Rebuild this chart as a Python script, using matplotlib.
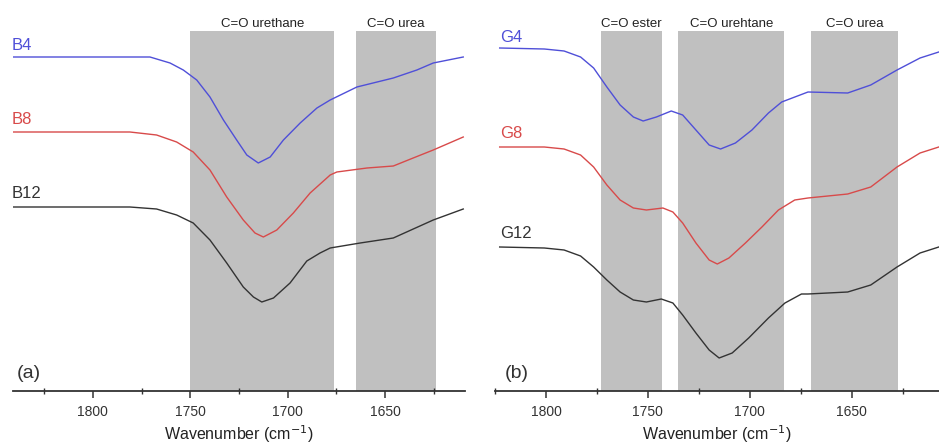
import numpy as np
import matplotlib.pyplot as plt

plt.rcParams['font.family'] = ['Liberation Sans', 'DejaVu Sans']

# ---- panel (a) data : wavenumber (cm-1) and transmittance (a.u.) ----
wn_B4 = [1841.1, 1781.0, 1770.7, 1760.4, 1753.6, 1746.7, 1739.9, 1733.0, 1726.2, 1721.0,
         1715.1, 1709.0, 1702.2, 1693.6, 1685.0, 1678.2, 1664.5, 1645.8, 1633.7, 1625.3, 1609.9]
T_B4 = [3.34, 3.34, 3.34, 3.28, 3.21, 3.11, 2.94, 2.71, 2.51, 2.36,
        2.28, 2.34, 2.51, 2.68, 2.83, 2.91, 3.04, 3.13, 3.21, 3.28, 3.34]

wn_B8 = [1841.1, 1781.0, 1767.3, 1757.0, 1748.5, 1739.9, 1731.3, 1722.8, 1716.8, 1712.5,
         1705.6, 1697.1, 1688.5, 1678.2, 1674.8, 1659.3, 1645.8, 1635.6, 1625.3, 1609.9]
T_B8 = [2.59, 2.59, 2.56, 2.49, 2.39, 2.21, 1.94, 1.71, 1.58, 1.54,
        1.61, 1.78, 1.98, 2.16, 2.19, 2.23, 2.25, 2.33, 2.41, 2.54]

wn_B12 = [1841.1, 1781.0, 1767.3, 1757.0, 1748.5, 1739.9, 1731.3, 1722.8, 1717.6, 1713.3,
          1707.3, 1698.8, 1690.2, 1683.4, 1678.2, 1662.8, 1645.8, 1625.3, 1609.9]
T_B12 = [1.84, 1.84, 1.82, 1.76, 1.68, 1.51, 1.28, 1.04, 0.94, 0.89,
         0.93, 1.08, 1.30, 1.38, 1.43, 1.48, 1.53, 1.71, 1.82]

# ---- panel (b) data ----
wn_G4 = [1822.7, 1800.8, 1791.1, 1783.0, 1776.6, 1770.1, 1763.6, 1757.1, 1752.3, 1745.8,
         1738.5, 1732.9, 1726.4, 1719.9, 1714.3, 1707.0, 1698.9, 1690.8, 1684.3, 1671.4,
         1651.9, 1640.6, 1627.7, 1616.4, 1607.2]
T_G4 = [3.43, 3.42, 3.40, 3.34, 3.23, 3.04, 2.86, 2.74, 2.70, 2.74,
        2.80, 2.76, 2.61, 2.46, 2.42, 2.48, 2.61, 2.78, 2.89, 2.99,
        2.98, 3.06, 3.21, 3.33, 3.39]

wn_G8 = [1822.7, 1800.8, 1791.1, 1783.0, 1776.6, 1770.1, 1763.6, 1757.1, 1750.7, 1742.6,
         1737.7, 1732.9, 1726.4, 1719.9, 1715.9, 1710.2, 1702.1, 1694.0, 1685.9, 1677.9,
         1671.4, 1651.9, 1640.6, 1627.7, 1616.4, 1607.2]
T_G8 = [2.44, 2.44, 2.42, 2.36, 2.24, 2.06, 1.91, 1.83, 1.81, 1.83,
        1.79, 1.68, 1.48, 1.31, 1.27, 1.33, 1.48, 1.64, 1.81, 1.91,
        1.93, 1.97, 2.04, 2.24, 2.38, 2.44]

wn_G12 = [1822.7, 1800.8, 1791.1, 1783.0, 1776.6, 1770.1, 1763.6, 1757.1, 1750.7, 1743.4,
          1737.7, 1732.9, 1726.4, 1719.9, 1715.0, 1708.6, 1700.5, 1690.8, 1682.7, 1674.6,
          1671.4, 1651.9, 1640.6, 1627.7, 1616.4, 1607.2]
T_G12 = [1.44, 1.43, 1.41, 1.35, 1.24, 1.11, 0.99, 0.91, 0.89, 0.92,
         0.88, 0.76, 0.58, 0.41, 0.33, 0.38, 0.53, 0.73, 0.88, 0.97,
         0.97, 0.99, 1.06, 1.24, 1.38, 1.44]

# shaded bands (start, end, label)
bands_a = [(1750, 1676, "C=O urethane"), (1665, 1624, "C=O urea")]
bands_b = [(1773, 1743, "C=O ester"), (1735, 1683, "C=O urehtane"), (1670, 1627, "C=O urea")]
band_top = 3.60

blue = "#4f4fd8"
red = "#d84a4a"
black = "#333333"

fig = plt.figure(figsize=(9.39, 4.47), dpi=100)
ax1 = fig.add_axes([13/939, 56/447, 452/939, 391/447])
ax2 = fig.add_axes([495/939, 56/447, 444/939, 391/447])


def style(ax, xlim):
    ax.set_xlim(xlim)
    ax.set_ylim(0, 3.91)
    for s in ['top', 'right', 'left']:
        ax.spines[s].set_visible(False)
    ax.spines['bottom'].set_color('#333333')
    ax.spines['bottom'].set_linewidth(1.3)
    ax.set_yticks([])
    ax.set_xticks([1800, 1750, 1700, 1650])
    ax.set_xticks([1825, 1775, 1725, 1675, 1625], minor=True)
    ax.tick_params(axis='x', which='major', direction='out', length=5, width=1.1,
                   colors='#333333', labelsize=10, pad=5)
    ax.tick_params(axis='x', which='minor', direction='inout', length=5, width=1.0,
                   colors='#333333')
    ax.set_xlabel("Wavenumber (cm$^{-1}$)", fontsize=11.5, color='#222222', labelpad=3)
    ax.set_facecolor('none')


def bands(ax, blist):
    for lo, hi, name in blist:
        ax.fill_between([lo, hi], 0, band_top, color='#c0c0c0', lw=0, zorder=0)
        ax.text((lo + hi) / 2, 3.67, name, ha='center', va='center', fontsize=9.5,
                color='#222222')


#-----panel (a)-----
style(ax1, (1841, 1609))
bands(ax1, bands_a)
ax1.plot(wn_B4, T_B4, color=blue, lw=1.0)
ax1.plot(wn_B8, T_B8, color=red, lw=1.0)
ax1.plot(wn_B12, T_B12, color=black, lw=1.0)
ax1.text(1841.5, 3.46, "B4", color=blue, fontsize=12, ha='left', va='center')
ax1.text(1841.5, 2.72, "B8", color=red, fontsize=12, ha='left', va='center')
ax1.text(1841.5, 1.97, "B12", color=black, fontsize=12, ha='left', va='center')
ax1.text(1839, 0.18, "(a)", color=black, fontsize=14, ha='left', va='center')

#-----panel (b)-----
style(ax2, (1822.7, 1607.1))
bands(ax2, bands_b)
ax2.plot(wn_G4, T_G4, color=blue, lw=1.0)
ax2.plot(wn_G8, T_G8, color=red, lw=1.0)
ax2.plot(wn_G12, T_G12, color=black, lw=1.0)
ax2.text(1822.5, 3.54, "G4", color=blue, fontsize=12, ha='left', va='center')
ax2.text(1822.5, 2.58, "G8", color=red, fontsize=12, ha='left', va='center')
ax2.text(1822.5, 1.58, "G12", color=black, fontsize=12, ha='left', va='center')
ax2.text(1820, 0.18, "(b)", color=black, fontsize=14, ha='left', va='center')

plt.savefig("out.png", dpi=100)
